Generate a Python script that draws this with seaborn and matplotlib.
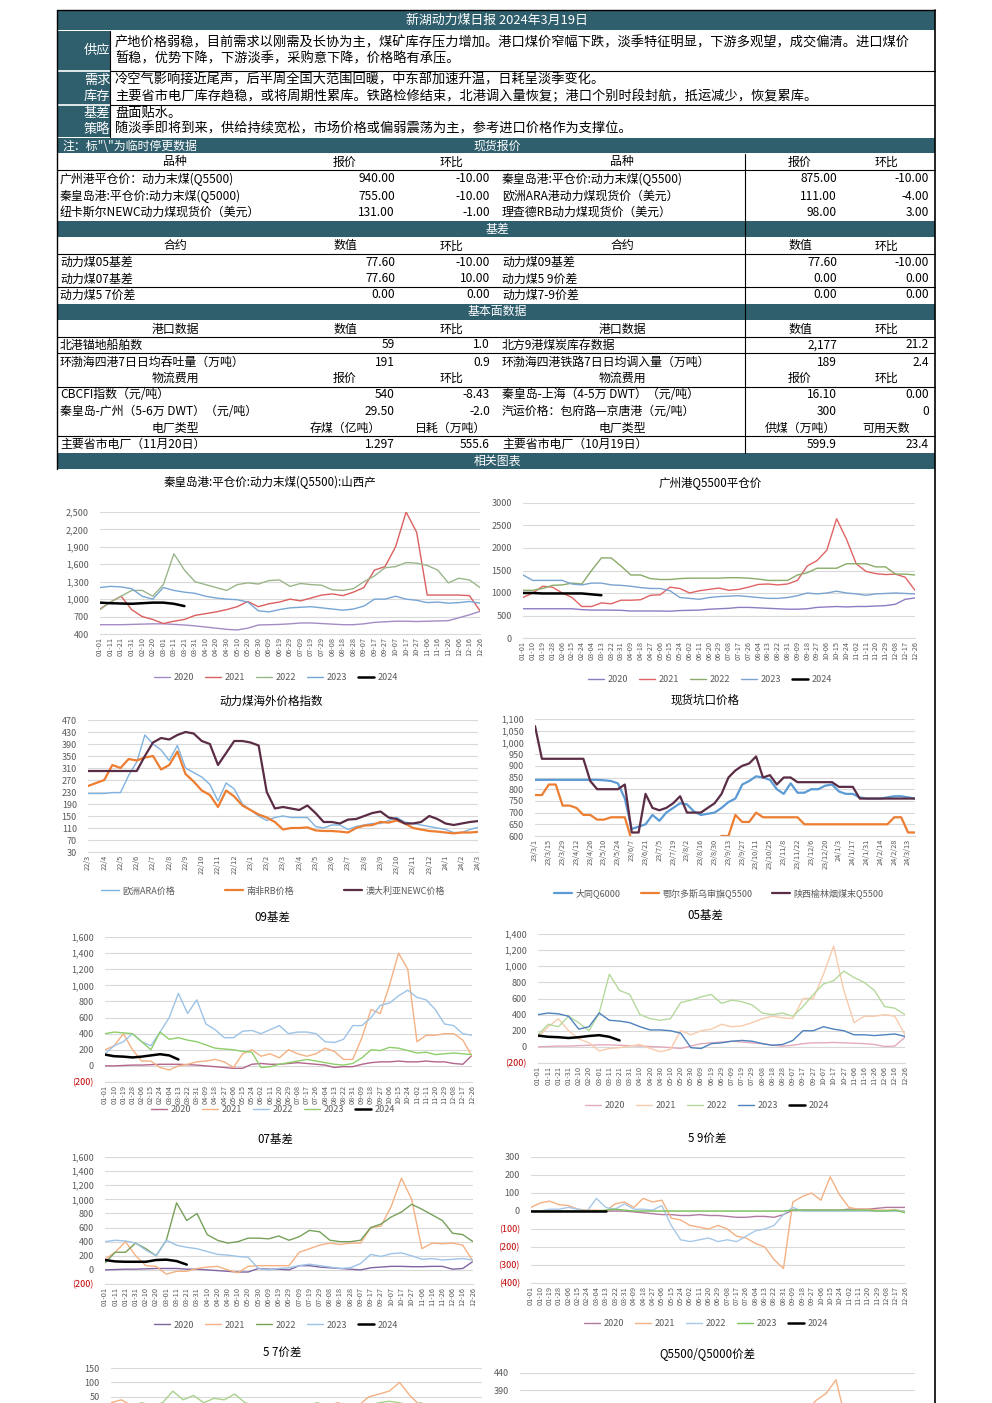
import numpy as np
import seaborn as sns
import matplotlib.pyplot as plt
from matplotlib.patches import Rectangle
from matplotlib.lines import Line2D

sns.set_style("white")
plt.rcParams['font.family'] = ['Noto Sans CJK SC', 'DejaVu Sans']
plt.rcParams['axes.unicode_minus'] = False

# ---------------- table text ----------------
report_title = "新湖动力煤日报 2024年3月19日"
supply_lines = ["产地价格弱稳，目前需求以刚需及长协为主，煤矿库存压力增加。港口煤价窄幅下跌，淡季特征明显，下游多观望，成交偏清。进口煤价",
                "暂稳，优势下降，下游淡季，采购意下降，价格略有承压。"]
demand_lines = ["冷空气影响接近尾声，后半周全国大范围回暖，中东部加速升温，日耗呈淡季变化。",
                "主要省市电厂库存趋稳，或将周期性累库。铁路检修结束，北港调入量恢复；港口个别时段封航，抵运减少，恢复累库。"]
basis_lines = ["盘面贴水。",
               "随淡季即将到来，供给持续宽松，市场价格或偏弱震荡为主，参考进口价格作为支撑位。"]

spot_left = [("广州港平仓价：动力末煤(Q5500)", "940.00", "-10.00"),
             ("秦皇岛港:平仓价:动力末煤(Q5000)", "755.00", "-10.00"),
             ("纽卡斯尔NEWC动力煤现货价（美元）", "131.00", "-1.00")]
spot_right = [("秦皇岛港:平仓价:动力末煤(Q5500)", "875.00", "-10.00"),
              ("欧洲ARA港动力煤现货价（美元）", "111.00", "-4.00"),
              ("理查德RB动力煤现货价（美元）", "98.00", "3.00")]
basis_left = [("动力煤05基差", "77.60", "-10.00"),
              ("动力煤07基差", "77.60", "10.00"),
              ("动力煤5 7价差", "0.00", "0.00")]
basis_right = [("动力煤09基差", "77.60", "-10.00"),
               ("动力煤5 9价差", "0.00", "0.00"),
               ("动力煤7-9价差", "0.00", "0.00")]
port_left = [("北港锚地船舶数", "59", "1.0"),
             ("环渤海四港7日日均吞吐量（万吨）", "191", "0.9")]
port_right = [("北方9港煤炭库存数据", "2,177", "21.2"),
              ("环渤海四港铁路7日日均调入量（万吨）", "189", "2.4")]
freight_left = [("CBCFI指数（元/吨）", "540", "-8.43"),
                ("秦皇岛-广州（5-6万 DWT）（元/吨）", "29.50", "-2.0")]
freight_right = [("秦皇岛-上海（4-5万 DWT）（元/吨）", "16.10", "0.00"),
                 ("汽运价格：包府路—京唐港（元/吨）", "300", "0")]
plant_left = [("主要省市电厂（11月20日）", "1.297", "555.6")]
plant_right = [("主要省市电厂（10月19日）", "599.9", "23.4")]

# ---------------- chart data ----------------
ticks_10d = ["01-01", "01-11", "01-21", "01-31", "02-10", "02-20", "03-01", "03-11", "03-21", "03-31",
             "04-10", "04-20", "04-30", "05-10", "05-20", "05-30", "06-09", "06-19", "06-29", "07-09",
             "07-19", "07-29", "08-08", "08-18", "08-28", "09-07", "09-17", "09-27", "10-07", "10-17",
             "10-27", "11-06", "11-16", "11-26", "12-06", "12-16", "12-26"]
ticks_9d = ["01-01", "01-10", "01-19", "01-28", "02-06", "02-15", "02-24", "03-04", "03-13", "03-22",
            "03-31", "04-09", "04-18", "04-27", "05-06", "05-15", "05-24", "06-02", "06-11", "06-20",
            "06-29", "07-08", "07-17", "07-26", "08-04", "08-13", "08-22", "08-31", "09-09", "09-18",
            "09-27", "10-06", "10-15", "10-24", "11-02", "11-11", "11-20", "11-29", "12-08", "12-17", "12-26"]
ticks_month = ["22/3", "22/4", "22/5", "22/6", "22/7", "22/8", "22/9", "22/10", "22/11", "22/12",
               "23/1", "23/2", "23/3", "23/4", "23/5", "23/6", "23/7", "23/8", "23/9", "23/10",
               "23/11", "23/12", "24/1", "24/2", "24/3"]
ticks_pit = ["23/3/1", "23/3/15", "23/3/29", "23/4/12", "23/4/26", "23/5/10", "23/5/24", "23/6/7",
             "23/6/21", "23/7/5", "23/7/19", "23/8/2", "23/8/16", "23/8/30", "23/9/13", "23/9/27",
             "23/10/11", "23/10/25", "23/11/8", "23/11/22", "23/12/6", "23/12/20", "24/1/3", "24/1/17",
             "24/1/31", "24/2/14", "24/2/28", "24/3/13"]

# 秦皇岛港 Q5500 山西产 (10-day points)
qhd_2020 = [560, 560, 560, 565, 570, 575, 575, 565, 555, 540, 520, 500, 480, 470, 500, 555, 560, 565, 575, 590,
            590, 580, 570, 560, 560, 575, 600, 610, 620, 620, 615, 620, 625, 630, 680, 730, 790]
qhd_2021 = [830, 950, 1050, 820, 700, 650, 580, 620, 650, 720, 750, 780, 820, 870, 960, 870, 920, 950, 1000, 970,
            1020, 1070, 1090, 1060, 1120, 1200, 1500, 1560, 1900, 2500, 2150, 1070, 1070, 1070, 1070, 1060, 800]
qhd_2022 = [820, 950, 1050, 1150, 1150, 1050, 1250, 1780, 1500, 1300, 1250, 1200, 1150, 1250, 1280, 1260, 1320,
            1330, 1220, 1270, 1250, 1240, 1160, 1150, 1180, 1300, 1400, 1540, 1560, 1630, 1620, 1580, 1500, 1280,
            1360, 1330, 1200]
qhd_2023 = [1200, 1220, 1210, 1180, 1050, 1000, 1200, 1150, 1120, 1100, 1050, 1020, 1000, 990, 950, 800, 780, 820,
            850, 860, 870, 850, 830, 810, 830, 880, 1000, 1000, 1050, 1000, 980, 940, 950, 930, 940, 960, 930]
qhd_2024 = [940, 930, 925, 920, 930, 940, 940, 920, 880]

# 广州港 Q5500 (9-day points)
gz_2020 = [650, 650, 650, 650, 650, 650, 630, 620, 620, 620, 615, 600, 600, 600, 600, 595, 610, 615, 620, 640,
           650, 660, 680, 680, 670, 660, 650, 640, 640, 650, 680, 690, 700, 690, 700, 700, 710, 720, 750, 860, 890]
gz_2021 = [900, 1000, 1150, 1130, 1000, 900, 700, 700, 780, 760, 840, 840, 850, 950, 960, 1130, 1100, 1000, 1050,
           1080, 1110, 1060, 1080, 1130, 1190, 1200, 1180, 1200, 1280, 1600, 1720, 1950, 2650, 2200, 1650, 1480,
           1430, 1410, 1420, 1350, 1060]
gz_2022 = [1060, 1060, 1100, 1170, 1180, 1220, 1200, 1500, 1780, 1780, 1600, 1400, 1400, 1320, 1300, 1300, 1320,
           1330, 1330, 1330, 1330, 1340, 1340, 1330, 1310, 1280, 1280, 1280, 1400, 1450, 1550, 1550, 1550, 1650,
           1650, 1650, 1580, 1580, 1420, 1420, 1400]
gz_2023 = [1400, 1280, 1280, 1280, 1280, 1200, 1180, 1220, 1220, 1180, 1170, 1150, 1120, 1100, 1100, 1050, 900,
           880, 860, 900, 920, 930, 940, 920, 900, 880, 880, 900, 940, 1000, 980, 1000, 1040, 1000, 980, 950, 980,
           990, 1000, 990, 980]
gz_2024 = [1000, 1000, 990, 990, 990, 990, 990, 970, 950]

# 动力煤海外价格指数 (half-month points, 22/3 - 24/3)
ovs_ara = [225, 225, 225, 228, 228, 285, 330, 420, 390, 370, 335, 385, 310, 295, 280, 255, 200, 260, 240, 190,
           170, 150, 135, 145, 150, 145, 145, 145, 115, 110, 120, 120, 105, 115, 120, 125, 125, 135, 145, 130,
           125, 120, 115, 110, 105, 95, 95, 105, 112]
ovs_rb = [250, 260, 270, 320, 310, 340, 335, 345, 350, 305, 320, 365, 290, 265, 235, 220, 180, 235, 215, 185,
          170, 155, 145, 130, 105, 110, 110, 112, 102, 100, 100, 98, 95, 110, 118, 120, 130, 128, 135, 125,
          110, 105, 100, 98, 95, 92, 95, 95, 97]
ovs_newc = [300, 300, 300, 300, 300, 300, 300, 350, 395, 410, 405, 420, 430, 425, 400, 390, 320, 360, 400, 400,
            395, 385, 230, 175, 180, 175, 170, 185, 160, 130, 130, 125, 138, 140, 150, 160, 165, 145, 140, 125,
            125, 130, 150, 140, 125, 120, 125, 130, 133]

# 现货坑口价格 (weekly points, 23/3/1 - 24/3/19)
pit_datong = [840, 840, 840, 840, 840, 840, 840, 840, 840, 840, 838, 835, 825, 760, 630, 640, 650, 690, 665, 700,
              720, 740, 735, 705, 690, 695, 700, 720, 745, 760, 820, 835, 855, 850, 840, 800, 780, 825, 785, 785,
              800, 800, 815, 820, 790, 780, 780, 765, 760, 760, 760, 765, 770, 770, 765, 760]
pit_ordos = [775, 775, 820, 820, 730, 730, 720, 690, 690, 670, 670, 680, 680, 680, 580, 580, 580, 580, 580, 580,
             580, 580, 580, 580, 580, 580, 580, 600, 600, 690, 660, 660, 700, 680, 680, 680, 680, 680, 680, 650,
             650, 650, 650, 650, 650, 650, 650, 650, 650, 650, 650, 650, 680, 680, 615, 615]
pit_yulin = [1070, 930, 930, 930, 930, 930, 930, 930, 835, 800, 800, 800, 800, 820, 615, 615, 780, 720, 710, 720,
             740, 770, 700, 700, 700, 720, 740, 780, 850, 880, 900, 910, 940, 850, 860, 820, 850, 850, 830, 830,
             830, 830, 830, 830, 810, 810, 810, 760, 760, 760, 760, 760, 760, 760, 760, 760]

# 09基差 (9-day points)
b09_2020 = [0, 0, 5, 10, 10, 15, 20, 20, 20, 15, 10, 0, -10, -20, -30, -30, 20, 30, 20, 20,
            30, 40, 30, 20, 10, -20, -10, -10, 20, 40, 50, 50, 60, 50, 50, 60, 50, 50, 30, 20, 130]
b09_2021 = [200, 250, 400, 200, 60, 60, -20, -50, 0, 20, 50, 60, 80, 50, -20, 150, 200, 120, 150, 100,
            200, 150, 120, 150, 220, 180, 80, 80, 350, 700, 650, 1000, 1400, 1200, 300, 380, 380, 400, 400, 320, 120]
b09_2022 = [150, 250, 300, 400, 300, 250, 420, 600, 900, 650, 820, 520, 450, 350, 350, 430, 440, 400, 450, 500,
            400, 420, 420, 400, 300, 290, 330, 500, 500, 600, 750, 780, 870, 940, 850, 820, 700, 520, 500, 400, 380]
b09_2023 = [400, 420, 410, 400, 300, 200, 420, 330, 350, 320, 300, 260, 220, 210, 200, 180, 170, -20, -10, 20,
            40, 60, 80, 60, 40, 20, 10, 30, 100, 200, 190, 230, 220, 190, 160, 170, 140, 150, 160, 150, 140]
b09_2024 = [140, 120, 115, 105, 115, 130, 145, 130, 80]

# 05基差 (10-day points)
b05_2020 = [0, 5, 10, 10, 15, 20, 25, 25, 20, 15, 10, 5, 0, -10, -20, 10, 40, 50, 60, 70,
            60, 50, 40, 20, 10, 20, 40, 50, 50, 55, 50, 45, 40, 30, 5, 10, 120]
b05_2021 = [120, 250, 350, 200, 100, 50, -50, -20, -10, 10, 30, -20, -60, -30, 200, 150, 200, 220, 280, 250,
            260, 300, 350, 380, 360, 350, 600, 600, 900, 1250, 700, 300, 380, 380, 400, 380, 150]
b05_2022 = [150, 280, 250, 380, 300, 200, 420, 900, 700, 650, 400, 350, 330, 350, 550, 580, 620, 650, 540, 580,
            560, 520, 420, 400, 420, 380, 500, 650, 780, 820, 940, 860, 800, 700, 500, 480, 400]
b05_2023 = [400, 420, 410, 380, 220, 250, 420, 330, 320, 300, 250, 210, 210, 200, 170, -10, -20, 40, 50, 70,
            80, 70, 40, 20, 30, 80, 200, 200, 250, 220, 200, 150, 150, 140, 150, 160, 130]
b05_2024 = [140, 125, 120, 110, 120, 135, 145, 125, 80]

# 07基差 (10-day points)
b07_2020 = [0, 5, 10, 10, 15, 20, 20, 20, 10, 10, 0, -10, -20, -30, -30, 20, 10, 10, 0, 60,
            60, 40, 30, 20, 10, 0, 30, 40, 50, 50, 45, 45, 50, 50, 10, 20, 120]
b07_2021 = [150, 250, 400, 200, 60, 50, -60, -20, -20, 20, 40, 50, 0, -40, 50, 60, 60, 60, 60, 250,
            300, 350, 380, 360, 380, 380, 600, 620, 900, 1300, 1000, 300, 380, 370, 380, 350, 120]
b07_2022 = [100, 250, 250, 380, 300, 200, 420, 950, 700, 800, 500, 420, 380, 400, 450, 450, 440, 480, 420, 470,
            560, 540, 420, 400, 400, 420, 600, 650, 750, 820, 930, 860, 780, 700, 520, 500, 400]
b07_2023 = [400, 420, 410, 380, 280, 200, 420, 350, 320, 300, 260, 220, 210, 190, 180, 20, 0, 20, 30, 60,
            80, 60, 40, 20, 30, 90, 220, 190, 230, 240, 200, 150, 160, 140, 150, 160, 140]
b07_2024 = [140, 120, 115, 115, 115, 140, 145, 125, 75]

# 5 9价差 (9-day points)
s59_2020 = [0, 0, 0, 0, 0, 0, 0, 0, 0, 0, 0, -5, -10, -15, -20, -20, -25, -25, -20, -25,
            -25, -30, -35, -35, -30, -30, -35, -20, 5, 5, 5, 5, 5, 5, 10, 10, 10, 15, 20, 20, 20]
s59_2021 = [20, 45, 55, 35, 30, 10, 5, 5, 0, 40, 50, 20, 70, 50, 60, -40, -50, -80, -90, -100,
            -80, -100, -140, -150, -180, -200, -270, -320, 50, 80, 100, 60, 190, 90, 20, 10, 10, 5, 5, 5, 0]
s59_2022 = [0, 0, 10, 10, 20, 10, 0, 70, 20, 10, 40, 10, 10, 5, 30, -80, -160, -170, -160, -150,
            -170, -160, -170, -140, -110, -100, -80, -20, 20, 0, 0, 0, 0, 0, 0, 0, 0, 0, 0, 0, 0]
s59_2023 = [0, 0, 0, 0, 0, 0, 0, 0, 5, 10, 5, 0, 0, 0, 0, 0, 0, 0, 0, 0,
            0, 0, 0, 0, 0, 0, 0, 0, 5, 5, 5, 5, 5, 5, 5, 5, 5, 0, 0, 5, -10]
s59_2024 = [0, 0, 0, 0, 0, 0, 0, 0, 0]

# 5 7价差 (10-day points, mostly below the page edge)
s57_2020 = [0, 0, 5, 10, 10, 10, 5, 0, -5, -10, -10, -5, 0, 10, 20, 20, 10, 10, 10, 20,
            20, 20, 10, 10, 10, 0, 0, 0, 0, 0, 0, 5, 10, 10, 15, 20, 20]
s57_2021 = [30, 40, 20, 10, 0, -10, -20, 0, 10, 20, 10, 0, -10, -20, 10, 20, 10, 20, 10, 0,
            10, 20, 30, 20, 20, 50, 60, 70, 100, 55, 20, 10, 10, 5, 0, 0, 0]
s57_2022 = [0, 10, 20, 30, 20, 30, 70, 40, 55, 30, 45, 40, 60, 30, 20, 10, 0, -10, 10, 20,
            30, 20, 10, 0, 10, 20, 30, 35, 30, 20, 30, 20, 10, 20, 10, 0, 10]
s57_2023 = [0, 0, 0, 5, 5, 5, 0, 0, 0, 0, 0, 0, 0, 0, 0, 0, -10, -10, 0, 0,
            0, 0, 0, 0, 0, 0, 0, 0, 0, 0, 0, 0, 0, 0, 0, 0, 0]
s57_2024 = [0, 0, 0, 0, 0, 0, 0, 0, 0]

# Q5500/Q5000价差 (9-day points, mostly below the page edge)
q55_2021 = [150, 160, 170, 160, 150, 140, 150, 170, 190, 200, 210, 200, 190, 180, 200, 210, 220, 230, 220, 210,
            200, 210, 220, 230, 240, 250, 260, 280, 300, 330, 360, 380, 420, 300, 250, 230, 220, 210, 200, 190, 180]
q55_2022 = [100, 110, 120, 130, 140, 150, 200, 250, 220, 200, 190, 180, 170, 160, 160, 170, 180, 170, 160, 150,
            150, 150, 150, 150, 160, 170, 180, 190, 200, 210, 220, 230, 240, 240, 230, 220, 210, 200, 200, 190, 180]

# ---------------- page ----------------
W, H = 992, 1403
fig = plt.figure(figsize=(W / 100, H / 100), dpi=100)
TEAL = '#2f5e6c'
GRAY = '#595959'


def fx(x):
    return x / W


def fy(y):
    return 1 - y / H


def txt(x, y, s, ha='left', color='black', size=8.6):
    fig.text(fx(x), fy(y), s, ha=ha, va='center', color=color, fontsize=size)


def box(x0, y0, x1, y1, color):
    fig.add_artist(Rectangle((fx(x0), fy(y1)), fx(x1) - fx(x0), fy(y0) - fy(y1),
                             transform=fig.transFigure, facecolor=color, edgecolor='none', zorder=0))


def hline(y, x0=57, x1=935, color='black', lw=0.8):
    fig.add_artist(Line2D([fx(x0), fx(x1)], [fy(y), fy(y)], transform=fig.transFigure, color=color, lw=lw))


def vline(x, y0, y1, color='black', lw=0.8):
    fig.add_artist(Line2D([fx(x), fx(x)], [fy(y0), fy(y1)], transform=fig.transFigure, color=color, lw=lw))


# teal bands
box(57, 10, 935, 30, TEAL)
box(57, 31, 110, 137, TEAL)
box(57, 138, 935, 153, TEAL)
box(57, 221, 935, 237, TEAL)
box(57, 304, 935, 320, TEAL)
box(57, 453, 935, 469, TEAL)
hline(70.5, 57, 110, 'white', 1.2)
hline(104.5, 57, 110, 'white', 1.2)

txt(497, 20, report_title, ha='center', color='white', size=9.3)
txt(97, 50, "供应", ha='center', color='white', size=9.5)
txt(97, 80, "需求", ha='center', color='white', size=9.5)
txt(97, 96, "库存", ha='center', color='white', size=9.5)
txt(97, 114, "基差", ha='center', color='white', size=9.5)
txt(97, 129, "策略", ha='center', color='white', size=9.5)
for line, y in zip(supply_lines, [43, 59]):
    txt(115, y, line, size=9.5)
for line, y in zip(demand_lines, [80, 96]):
    txt(115, y, line, size=9.5)
for line, y in zip(basis_lines, [114, 129]):
    txt(115, y, line, size=9.5)

txt(62, 146, '注：标"\\"为临时停更数据', color='white', size=8.6)
txt(497, 146, "现货报价", ha='center', color='white', size=8.6)
txt(497, 229, "基差", ha='center', color='white', size=8.6)
txt(497, 312, "基本面数据", ha='center', color='white', size=8.6)
txt(497, 461, "相关图表", ha='center', color='white', size=8.6)


def header(y, cols):
    for x, s in zip([175, 345, 451, 622, 800, 886], cols):
        txt(x, y, s, ha='center')


def rows(ys, left, right):
    for y, (n, v, c) in zip(ys, left):
        txt(60, y, n)
        txt(395, y, v, ha='right')
        txt(490, y, c, ha='right')
    for y, (n, v, c) in zip(ys, right):
        txt(502, y, n)
        txt(837, y, v, ha='right')
        txt(929, y, c, ha='right')


header(162, ["品种", "报价", "环比", "品种", "报价", "环比"])
rows([179, 196, 212], spot_left, spot_right)
header(246, ["合约", "数值", "环比", "合约", "数值", "环比"])
rows([262, 279, 295], basis_left, basis_right)
header(329, ["港口数据", "数值", "环比", "港口数据", "数值", "环比"])
rows([345, 362], port_left, port_right)
header(378, ["物流费用", "报价", "环比", "物流费用", "报价", "环比"])
rows([395, 411], freight_left, freight_right)
header(428, ["电厂类型", "存煤（亿吨）", "日耗（万吨）", "电厂类型", "供煤（万吨）", "可用天数"])
rows([444], plant_left, plant_right)

for y in [70.5, 104.5]:
    hline(y, 110, 935)
for y in [170, 254, 287, 337, 353.5, 387, 436]:
    hline(y)
vline(110, 31, 137)
vline(745, 154, 453)
vline(57, 10, 469, lw=1.0)
vline(935, 10, H, lw=1.2)
hline(10, lw=1.0)

# ---------------- charts ----------------


def make_ax(x0, y0, x1, y1):
    return fig.add_axes([fx(x0), fy(y1), fx(x1) - fx(x0), fy(y0) - fy(y1)])


def fmt_val(v, comma=True):
    s = f"{abs(v):,}" if comma else f"{abs(v)}"
    return f"({s})" if v < 0 else s


def draw_chart(ax, series, xlabels, tick_step, xmax, ylim, yticks, comma=True, show_x=True):
    handles = []
    for name, vals, color, lw in series:
        xs = np.arange(len(vals))
        sns.lineplot(x=xs, y=vals, ax=ax, color=color, linewidth=lw, legend=False)
        handles.append((ax.get_lines()[-1], name))
    ax.set_xlim(0, xmax)
    ax.set_xticks(np.arange(len(xlabels)) * tick_step)
    if show_x:
        ax.set_xticklabels(xlabels, rotation=90, fontsize=5.3, color=GRAY)
    else:
        ax.set_xticklabels([])
    ax.set_ylim(ylim)
    ax.set_yticks(yticks)
    labs = ax.set_yticklabels([fmt_val(int(v), comma) for v in yticks], fontsize=6.5, color=GRAY)
    for t in labs:
        if t.get_text().startswith('('):
            t.set_color('#c00000')
    ax.grid(axis='y', color='#d9d9d9', lw=0.8)
    ax.grid(axis='x', visible=False)
    for s in ['top', 'right', 'left']:
        ax.spines[s].set_visible(False)
    ax.spines['bottom'].set_color('#d9d9d9')
    ax.spines['bottom'].set_visible(show_x)
    ax.tick_params(length=0, pad=2)
    ax.tick_params(axis='y', pad=8)
    ax.set_xlabel('')
    ax.set_ylabel('')
    ax.set_facecolor('none')
    return handles


def add_legend(ax, handles, cx, cy, spacing=1.2, hl=1.8):
    ax.legend([h for h, _ in handles], [n for _, n in handles], loc='center',
              bbox_to_anchor=(fx(cx), fy(cy)), bbox_transform=fig.transFigure,
              ncol=len(handles), frameon=False, fontsize=6.5, handlelength=hl,
              handletextpad=0.4, columnspacing=spacing, labelcolor=GRAY)


def title(x, y, s):
    txt(x, y, s, ha='center', size=8.3)


# 1 秦皇岛港
ax = make_ax(100, 512, 480, 634)
h = draw_chart(ax, [("2020", qhd_2020, '#a58bc4', 1.0), ("2021", qhd_2021, '#d9605e', 1.0),
                    ("2022", qhd_2022, '#9bb58a', 1.0), ("2023", qhd_2023, '#78a6d4', 1.0),
                    ("2024", qhd_2024, 'black', 1.8)],
               ticks_10d, 1, 36, (400, 2500), np.arange(400, 2501, 300))
add_legend(ax, h, 276, 678)
title(270, 482, "秦皇岛港:平仓价:动力末煤(Q5500):山西产")

# 2 广州港
ax = make_ax(523, 503, 915, 638)
h = draw_chart(ax, [("2020", gz_2020, '#8e7cc3', 1.0), ("2021", gz_2021, '#e06464', 1.0),
                    ("2022", gz_2022, '#8aab6a', 1.0), ("2023", gz_2023, '#7ba3cf', 1.0),
                    ("2024", gz_2024, 'black', 1.8)],
               ticks_9d, 1, 40, (0, 3000), np.arange(0, 3001, 500), comma=False)
add_legend(ax, h, 710, 680)
title(710, 484, "广州港Q5500平仓价")

# 3 海外价格指数
ax = make_ax(88, 720, 478, 852)
h = draw_chart(ax, [("欧洲ARA价格", ovs_ara, '#7fb2e0', 1.0), ("南非RB价格", ovs_rb, '#ed7d31', 1.6),
                    ("澳大利亚NEWC价格", ovs_newc, '#5b2c45', 1.6)],
               ticks_month, 2, 48, (30, 470), np.arange(30, 471, 40), comma=False)
add_legend(ax, h, 273, 891, spacing=5.5, hl=2.0)
title(271, 701, "动力煤海外价格指数")

# 4 现货坑口价格
ax = make_ax(535, 719, 915, 836)
h = draw_chart(ax, [("大同Q6000", pit_datong, '#5b9bd5', 1.6), ("鄂尔多斯乌审旗Q5500", pit_ordos, '#ed7d31', 1.6),
                    ("陕西榆林烟煤末Q5500", pit_yulin, '#5b2c45', 1.6)],
               ticks_pit, 2, 55, (600, 1100), np.arange(600, 1101, 50))
add_legend(ax, h, 719, 893, spacing=2.2, hl=2.0)
title(705, 700, "现货坑口价格")

# 5 09基差
ax = make_ax(105, 937, 472, 1082)
h = draw_chart(ax, [("2020", b09_2020, '#b3658c', 1.0), ("2021", b09_2021, '#f4b183', 1.0),
                    ("2022", b09_2022, '#9dc3e6', 1.0), ("2023", b09_2023, '#8fce6b', 1.0),
                    ("2024", b09_2024, 'black', 1.8)],
               ticks_9d, 1, 40, (-200, 1600), np.arange(-200, 1601, 200))
add_legend(ax, h, 273, 1110)
title(272, 918, "09基差")

# 6 05基差
ax = make_ax(538, 934, 905, 1063)
h = draw_chart(ax, [("2020", b05_2020, '#e3aabb', 1.0), ("2021", b05_2021, '#f8cbad', 1.0),
                    ("2022", b05_2022, '#b5d99c', 1.0), ("2023", b05_2023, '#4f81bd', 1.0),
                    ("2024", b05_2024, 'black', 1.8)],
               ticks_10d, 1, 36, (-200, 1400), np.arange(-200, 1401, 200))
add_legend(ax, h, 707, 1106)
title(705, 916, "05基差")

# 7 07基差
ax = make_ax(105, 1157, 473, 1284)
h = draw_chart(ax, [("2020", b07_2020, '#8064a2', 1.0), ("2021", b07_2021, '#f4b183', 1.0),
                    ("2022", b07_2022, '#77a05a', 1.0), ("2023", b07_2023, '#9dc3e6', 1.0),
                    ("2024", b07_2024, 'black', 1.8)],
               ticks_10d, 1, 36, (-200, 1600), np.arange(-200, 1601, 200))
add_legend(ax, h, 276, 1325)
title(275, 1139, "07基差")

# 8 5 9价差
ax = make_ax(531, 1157, 905, 1283)
h = draw_chart(ax, [("2020", s59_2020, '#b07aa1', 1.0), ("2021", s59_2021, '#f4b183', 1.0),
                    ("2022", s59_2022, '#a8c8e8', 1.0), ("2023", s59_2023, '#7cc45a', 1.0),
                    ("2024", s59_2024, 'black', 1.8)],
               ticks_9d, 1, 40, (-400, 300), np.arange(-400, 301, 100))
add_legend(ax, h, 706, 1324)
title(707, 1138, "5 9价差")

# 9 5 7价差 (only the top of the chart fits on the page)
ax = make_ax(111, 1368, 482, 1403)
draw_chart(ax, [("2020", s57_2020, '#8064a2', 1.0), ("2021", s57_2021, '#f4b183', 1.0),
                ("2022", s57_2022, '#a9d18e', 1.0), ("2023", s57_2023, '#9dc3e6', 1.0),
                ("2024", s57_2024, 'black', 1.8)],
           ticks_10d, 1, 36, (29, 150), [50, 100, 150], show_x=False)
title(282, 1352, "5 7价差")

# 10 Q5500/Q5000价差 (only the top of the chart fits on the page)
ax = make_ax(520, 1373, 915, 1403)
draw_chart(ax, [("2021", q55_2021, '#f4b183', 1.0), ("2022", q55_2022, '#9dc3e6', 1.0)],
           ticks_9d, 1, 40, (352, 440), [390, 440], comma=False, show_x=False)
title(707, 1354, "Q5500/Q5000价差")

fig.savefig("out.png", dpi=100)
